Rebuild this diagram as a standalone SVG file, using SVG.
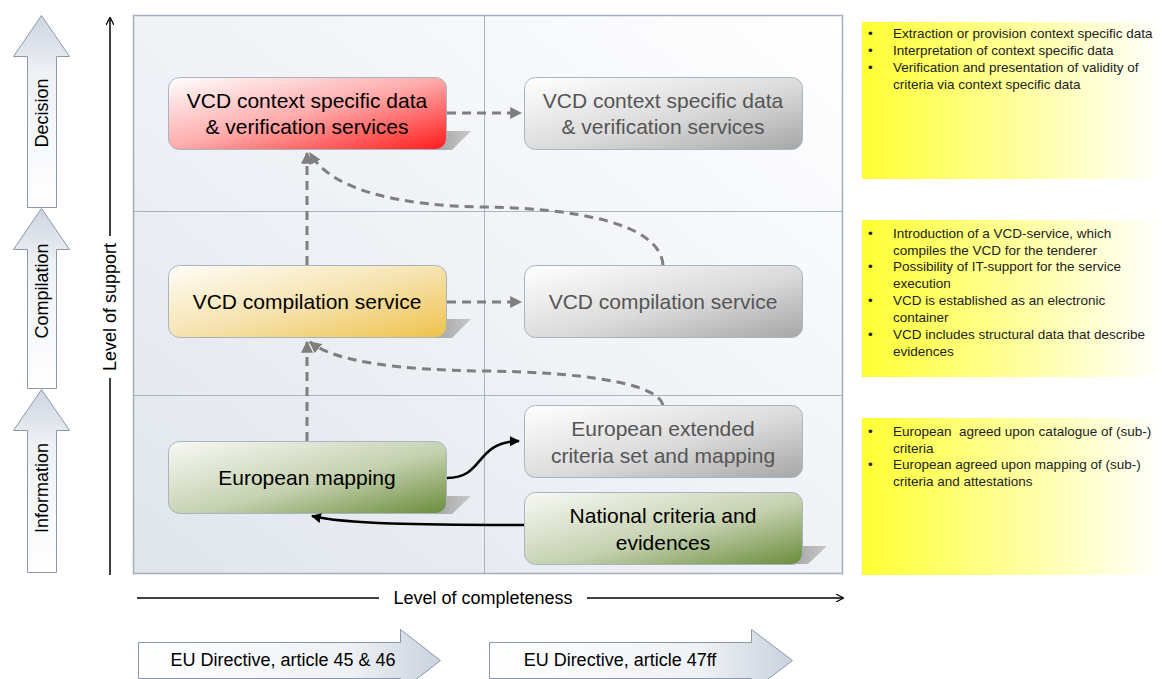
<svg xmlns="http://www.w3.org/2000/svg" width="1162" height="679" viewBox="0 0 1162 679">
<defs>
  <linearGradient id="panel" x1="0" y1="1" x2="1" y2="0">
    <stop offset="0" stop-color="#e0e5ed"/>
    <stop offset="1" stop-color="#ffffff"/>
  </linearGradient>
  <linearGradient id="red" x1="0" y1="0" x2="1" y2="1">
    <stop offset="0" stop-color="#ffffff"/>
    <stop offset="0.5" stop-color="#ffaaaa"/>
    <stop offset="1" stop-color="#ff1a1a"/>
  </linearGradient>
  <linearGradient id="yellow" x1="0" y1="0" x2="1" y2="1">
    <stop offset="0" stop-color="#fffdf8"/>
    <stop offset="0.5" stop-color="#f6e3b0"/>
    <stop offset="1" stop-color="#eec24a"/>
  </linearGradient>
  <linearGradient id="green" x1="0" y1="0" x2="1" y2="1">
    <stop offset="0" stop-color="#f8f9f5"/>
    <stop offset="0.55" stop-color="#c5d1b0"/>
    <stop offset="1" stop-color="#6a8c3a"/>
  </linearGradient>
  <linearGradient id="gray" x1="0" y1="0" x2="1" y2="1">
    <stop offset="0" stop-color="#ffffff"/>
    <stop offset="0.55" stop-color="#dadada"/>
    <stop offset="1" stop-color="#a6a6a6"/>
  </linearGradient>
  <linearGradient id="note" x1="0" y1="0" x2="1" y2="0">
    <stop offset="0" stop-color="#ffff33"/>
    <stop offset="1" stop-color="#ffffff"/>
  </linearGradient>
  <linearGradient id="uparrow" x1="0" y1="0" x2="0" y2="1">
    <stop offset="0" stop-color="#cdd5e0"/>
    <stop offset="0.3" stop-color="#eef1f5"/>
    <stop offset="1" stop-color="#ffffff"/>
  </linearGradient>
  <linearGradient id="rarrow" x1="0" y1="0" x2="1" y2="0">
    <stop offset="0" stop-color="#ffffff"/>
    <stop offset="0.7" stop-color="#eef1f5"/>
    <stop offset="1" stop-color="#c9d2de"/>
  </linearGradient>
  <linearGradient id="shadow" x1="0" y1="0" x2="1" y2="0">
    <stop offset="0" stop-color="#9a9a9a"/>
    <stop offset="1" stop-color="#c8c8c8"/>
  </linearGradient>
  <marker id="dashHead" viewBox="0 0 10 10" refX="9" refY="5" markerWidth="4" markerHeight="4" orient="auto">
    <path d="M0,0 L10,5 L0,10 z" fill="#7f7f7f"/>
  </marker>
  <marker id="blackHead" viewBox="0 0 10 10" refX="9" refY="5" markerWidth="4" markerHeight="4" orient="auto">
    <path d="M0,0 L10,5 L0,10 z" fill="#000"/>
  </marker>
  <marker id="axisHead" viewBox="0 0 10 10" refX="9" refY="5" markerWidth="8" markerHeight="8" orient="auto" markerUnits="userSpaceOnUse">
    <path d="M0,0 L10,5 L0,10" fill="none" stroke="#000" stroke-width="1.5"/>
  </marker>
</defs>
<style>
  .nt{font-family:"Liberation Sans",Arial,sans-serif;font-size:21px;text-anchor:middle;fill:#000;}
  .gt{font-family:"Liberation Sans",Arial,sans-serif;font-size:21px;text-anchor:middle;fill:#555;}
  .box{stroke:#a9b4c2;stroke-width:1;}
  .dash{fill:none;stroke:#7f7f7f;stroke-width:3;stroke-dasharray:9,6;}
  .solid{fill:none;stroke:#000;stroke-width:2.5;}
  .lbl{font-family:"Liberation Sans",Arial,sans-serif;font-size:18px;fill:#000;text-anchor:middle;}
  .bul{font-family:"Liberation Sans",Arial,sans-serif;font-size:13.5px;fill:#222;}
  .arr{stroke:#8b97a8;stroke-width:1;}
</style>
<rect width="1162" height="679" fill="#ffffff"/>

<g id="panel">
  <rect x="133.500" y="15.500" width="709" height="558" fill="url(#panel)" stroke="#a3adbb" stroke-width="1.5"/>
  <line x1="484.500" y1="16" x2="484.500" y2="573" stroke="#a9b4c2" stroke-width="1"/>
  <line x1="134" y1="211.500" x2="842" y2="211.500" stroke="#a9b4c2" stroke-width="1"/>
  <line x1="134" y1="395.500" x2="842" y2="395.500" stroke="#a9b4c2" stroke-width="1"/>
</g>

<g id="level-arrows">
  <g id="arrow-decision">
    <path class="arr" d="M27.500,207.500 V56.500 H13.500 L41.500,15.500 L69.500,56.500 H56.500 V207.500 Z" fill="url(#uparrow)"/>
    <text class="lbl" transform="translate(48,113) rotate(-90)">Decision</text>
  </g>
  <g id="arrow-compilation">
    <path class="arr" d="M27.500,388.500 V249.500 H13.500 L41.500,208.500 L69.500,249.500 H56.500 V388.500 Z" fill="url(#uparrow)"/>
    <text class="lbl" transform="translate(48,291) rotate(-90)">Compilation</text>
  </g>
  <g id="arrow-information">
    <path class="arr" d="M27.500,572.500 V430.500 H13.500 L41.500,389.500 L69.500,430.500 H56.500 V572.500 Z" fill="url(#uparrow)"/>
    <text class="lbl" transform="translate(48,488) rotate(-90)">Information</text>
  </g>
</g>

<g id="axes">
  <line x1="110" y1="575" x2="110" y2="378" stroke="#000" stroke-width="1.5"/>
  <line x1="110" y1="236" x2="110" y2="18" stroke="#000" stroke-width="1.5" marker-end="url(#axisHead)"/>
  <text class="lbl" transform="translate(116,307) rotate(-90)">Level of support</text>
  <line x1="137" y1="598" x2="379" y2="598" stroke="#000" stroke-width="1.5"/>
  <line x1="587" y1="598" x2="843" y2="598" stroke="#000" stroke-width="1.5" marker-end="url(#axisHead)"/>
  <text class="lbl" x="483" y="604">Level of completeness</text>
</g>

<g id="directive-arrows">
  <g id="arrow-art45">
    <path class="arr" d="M138.500,642.500 H400.500 V629.500 L440.500,660.500 L400.500,691.500 V678.500 H138.500 Z" fill="url(#rarrow)"/>
    <text class="lbl" x="283" y="666">EU Directive, article 45 &amp; 46</text>
  </g>
  <g id="arrow-art47">
    <path class="arr" d="M489.500,642.500 H751.500 V629.500 L792.500,660.500 L751.500,691.500 V678.500 H489.500 Z" fill="url(#rarrow)"/>
    <text class="lbl" x="620" y="666">EU Directive, article 47ff</text>
  </g>
</g>

<g id="node-vcd-context">
  <path d="M425,131 H471 L452,150 H425 Z" fill="url(#shadow)"/>
  <rect class="box" x="168.500" y="77.500" width="278" height="72" rx="11" fill="url(#red)"/>
  <text class="nt" x="307" y="108">VCD context specific data</text>
  <text class="nt" x="307" y="134">&amp; verification services</text>
</g>
<g id="node-vcd-context-ext">
  <rect class="box" x="524.500" y="77.500" width="278" height="72" rx="11" fill="url(#gray)"/>
  <text class="gt" x="663" y="108">VCD context specific data</text>
  <text class="gt" x="663" y="134">&amp; verification services</text>
</g>
<g id="node-vcd-compilation">
  <path d="M425,319 H471 L452,338 H425 Z" fill="url(#shadow)"/>
  <rect class="box" x="168.500" y="265.500" width="278" height="72" rx="11" fill="url(#yellow)"/>
  <text class="nt" x="307" y="309">VCD compilation service</text>
</g>
<g id="node-vcd-compilation-ext">
  <rect class="box" x="524.500" y="265.500" width="278" height="72" rx="11" fill="url(#gray)"/>
  <text class="gt" x="663" y="309">VCD compilation service</text>
</g>
<g id="node-european-mapping">
  <path d="M425,496 H471 L452,514 H425 Z" fill="url(#shadow)"/>
  <rect class="box" x="168.500" y="441.500" width="278" height="72" rx="11" fill="url(#green)"/>
  <text class="nt" x="307" y="485">European mapping</text>
</g>
<g id="node-european-extended">
  <rect class="box" x="524.500" y="405.500" width="278" height="72" rx="11" fill="url(#gray)"/>
  <text class="gt" x="663" y="436">European extended</text>
  <text class="gt" x="663" y="463">criteria set and mapping</text>
</g>
<g id="node-national">
  <path d="M781,546 H827 L808,564 H781 Z" fill="url(#shadow)"/>
  <rect class="box" x="524.500" y="492.500" width="278" height="72" rx="11" fill="url(#green)"/>
  <text class="nt" x="663" y="523">National criteria and</text>
  <text class="nt" x="663" y="550">evidences</text>
</g>

<g id="connectors">
  <line class="dash" x1="447" y1="113" x2="521" y2="113" marker-end="url(#dashHead)"/>
  <line class="dash" x1="447" y1="302" x2="521" y2="302" marker-end="url(#dashHead)"/>
  <line class="dash" x1="307" y1="441" x2="307" y2="342" marker-end="url(#dashHead)"/>
  <line class="dash" x1="307" y1="265" x2="307" y2="153" marker-end="url(#dashHead)"/>
  <path class="dash" d="M663,265 C660,222 570,208 484,207 C400,206 330,190 310,153" marker-end="url(#dashHead)"/>
  <path class="dash" d="M663,405 C658,383 580,372 484,371 C400,370 335,362 310,342" marker-end="url(#dashHead)"/>
  <path class="solid" d="M447,478 C485,478 474,442 519,441" marker-end="url(#blackHead)"/>
  <path class="solid" d="M524,525 C420,525 345,524 312,516" marker-end="url(#blackHead)"/>
</g>

<g id="note-decision">
  <rect x="862" y="22" width="300" height="157" fill="url(#note)"/>
  <g class="bul">
    <text x="868" y="38">•</text><text x="893" y="38">Extraction or provision context specific data</text>
    <text x="868" y="55">•</text><text x="893" y="55">Interpretation of context specific data</text>
    <text x="868" y="72">•</text><text x="893" y="72">Verification and presentation of validity of</text>
    <text x="893" y="89">criteria via context specific data</text>
  </g>
</g>
<g id="note-compilation">
  <rect x="862" y="220" width="300" height="157" fill="url(#note)"/>
  <g class="bul">
    <text x="868" y="238">•</text><text x="893" y="238">Introduction of a VCD-service, which</text>
    <text x="893" y="255">compiles the VCD for the tenderer</text>
    <text x="868" y="271">•</text><text x="893" y="271">Possibility of IT-support for the service</text>
    <text x="893" y="288">execution</text>
    <text x="868" y="305">•</text><text x="893" y="305">VCD is established as an electronic</text>
    <text x="893" y="322">container</text>
    <text x="868" y="339">•</text><text x="893" y="339">VCD includes structural data that describe</text>
    <text x="893" y="356">evidences</text>
  </g>
</g>
<g id="note-information">
  <rect x="862" y="418" width="300" height="157" fill="url(#note)"/>
  <g class="bul">
    <text x="868" y="436">•</text><text x="893" y="436" xml:space="preserve">European  agreed upon catalogue of (sub-)</text>
    <text x="893" y="453">criteria</text>
    <text x="868" y="469">•</text><text x="893" y="469">European agreed upon mapping of (sub-)</text>
    <text x="893" y="486">criteria and attestations</text>
  </g>
</g>
</svg>
